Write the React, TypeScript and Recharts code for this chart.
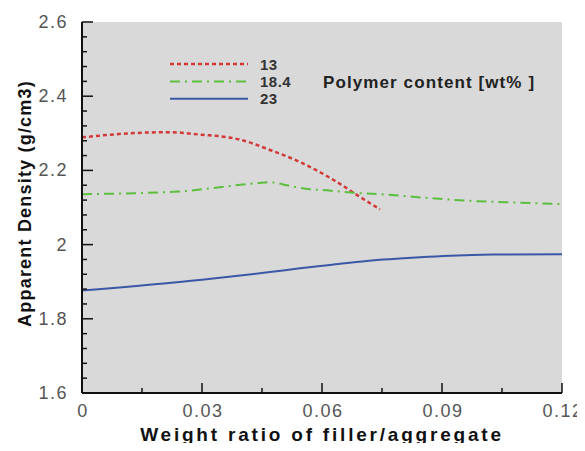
import React from 'react';
import { LineChart, Line, XAxis, YAxis, CartesianGrid, Legend } from 'recharts';

// ---- tick labels ----
const xMajorTicks = [0, 0.03, 0.06, 0.09, 0.12];
const xTickLabels = ['0', '0.03', '0.06', '0.09', '0.12'];
const yMajorTicks = [1.6, 1.8, 2, 2.2, 2.4, 2.6];
const yTickLabels = ['1.6', '1.8', '2', '2.2', '2.4', '2.6'];

// ---- series ----
const seriesNames = ['13', '18.4', '23'];
const legendTitle = 'Polymer content [wt% ]';
const xAxisTitle = 'Weight ratio of filler/aggregate';
const yAxisTitle = 'Apparent Density (g/cm3)';

const ratio13 = [0, 0.0137, 0.022, 0.03, 0.036, 0.0395, 0.047, 0.055, 0.064, 0.069, 0.0745];
const density13 = [2.289, 2.301, 2.303, 2.296, 2.29, 2.283, 2.255, 2.22, 2.167, 2.132, 2.095];

const ratio184 = [0, 0.024, 0.034, 0.044, 0.047, 0.052, 0.057, 0.06, 0.068, 0.0745, 0.086, 0.097, 0.109, 0.12];
const density184 = [2.136, 2.143, 2.154, 2.166, 2.168, 2.158, 2.149, 2.147, 2.14, 2.136, 2.126, 2.118, 2.113, 2.109];

const ratio23 = [0, 0.03, 0.047, 0.0545, 0.062, 0.0712, 0.0845, 0.092, 0.1028, 0.12];
const density23 = [1.876, 1.905, 1.926, 1.936, 1.945, 1.956, 1.966, 1.97, 1.973, 1.974];

const toRows = (xs: number[], ys: number[]) => xs.map((x, i) => ({ x, y: ys[i] }));

const seriesStyles = [
  { color: '#d23a3a', dash: '4 3', width: 2.5 },
  { color: '#5cbf3f', dash: '10 5 2 5', width: 2 },
  { color: '#3b58a6', dash: undefined as string | undefined, width: 2 },
];

const seriesData = [toRows(ratio13, density13), toRows(ratio184, density184), toRows(ratio23, density23)];

const subdivide = (majors: number[], n: number) => {
  const out: number[] = [];
  for (let i = 0; i < majors.length - 1; i++) {
    for (let k = 0; k < n; k++) {
      out.push(+(majors[i] + ((majors[i + 1] - majors[i]) * k) / n).toFixed(5));
    }
  }
  out.push(majors[majors.length - 1]);
  return out;
};

const xTicks = subdivide(xMajorTicks, 2);
const yTicks = subdivide(yMajorTicks, 5);

const FONT = '"Liberation Sans", Arial, sans-serif';

const majorIndex = (majors: number[], v: number) => majors.findIndex((m) => Math.abs(m - v) < 1e-6);

const XTick = (props: any) => {
  const { x, y, payload } = props;
  const idx = majorIndex(xMajorTicks, payload.value);
  const major = idx >= 0;
  return (
    <g>
      <line x1={x} y1={y} x2={x} y2={y - (major ? 10 : 5)} stroke="#111" strokeWidth={1.5} />
      {major && (
        <text
          x={x + 1}
          y={y + 18}
          textAnchor="middle"
          dominantBaseline="central"
          fontSize={18}
          fill="#555"
          letterSpacing={1.5}
          fontFamily={FONT}
        >
          {xTickLabels[idx]}
        </text>
      )}
    </g>
  );
};

const YTick = (props: any) => {
  const { x, y, payload } = props;
  const idx = majorIndex(yMajorTicks, payload.value);
  const major = idx >= 0;
  return (
    <g>
      <line x1={x} y1={y} x2={x + (major ? 11 : 5)} y2={y} stroke="#111" strokeWidth={1.5} />
      {major && (
        <text
          x={x - 14}
          y={y}
          textAnchor="end"
          dominantBaseline="central"
          fontSize={18}
          fill="#555"
          letterSpacing={1.5}
          fontFamily={FONT}
        >
          {yTickLabels[idx]}
        </text>
      )}
    </g>
  );
};

const XTitle = (props: any) => {
  const vb = props.viewBox || {};
  return (
    <text
      x={vb.x + vb.width / 2}
      y={vb.y + 41}
      textAnchor="middle"
      dominantBaseline="central"
      fontSize={19}
      fontWeight="bold"
      fill="#111"
      letterSpacing={2.8}
      fontFamily={FONT}
    >
      {xAxisTitle}
    </text>
  );
};

const YTitle = (props: any) => {
  const vb = props.viewBox || {};
  const cx = 25;
  const cy = vb.y + vb.height / 2 - 4;
  return (
    <text
      x={cx}
      y={cy}
      transform={`rotate(-90, ${cx}, ${cy})`}
      textAnchor="middle"
      dominantBaseline="central"
      fontSize={18}
      fontWeight="bold"
      fill="#111"
      letterSpacing={1.2}
      fontFamily={FONT}
    >
      {yAxisTitle}
    </text>
  );
};

const LegendBox = () => (
  <svg width={400} height={70} style={{ overflow: 'visible' }}>
    {seriesNames.map((name, i) => {
      const y = 11 + i * 17.4;
      const s = seriesStyles[i];
      return (
        <g key={name}>
          <line x1={0} y1={y} x2={78} y2={y} stroke={s.color} strokeWidth={s.width} strokeDasharray={s.dash} />
          <text x={90} y={y} dominantBaseline="central" fontSize={15} fontWeight="bold" fill="#333" fontFamily={FONT} letterSpacing={0.5}>
            {name}
          </text>
        </g>
      );
    })}
    <text x={153} y={29} dominantBaseline="central" fontSize={17} fontWeight="bold" fill="#222" fontFamily={FONT} letterSpacing={1.1}>
      {legendTitle}
    </text>
  </svg>
);

export default function App() {
  return (
    <div style={{ width: 585, height: 451, margin: -8, fontFamily: FONT, position: 'relative' }}>
      <LineChart width={585} height={451} margin={{ top: 22, right: 23, bottom: 8, left: 0 }}>
        <CartesianGrid fill="#d9d9d9" stroke="none" vertical={false} horizontal={false} />
        <XAxis
          type="number"
          dataKey="x"
          domain={[0, 0.12]}
          ticks={xTicks}
          interval={0}
          allowDataOverflow
          tick={<XTick />}
          tickLine={false}
          tickSize={0}
          tickMargin={0}
          axisLine={{ stroke: '#111', strokeWidth: 2 }}
          height={50}
          label={(p: any) => <XTitle {...p} />}
        />
        <YAxis
          type="number"
          domain={[1.6, 2.6]}
          ticks={yTicks}
          interval={0}
          allowDataOverflow
          tick={<YTick />}
          tickLine={false}
          tickSize={0}
          tickMargin={0}
          axisLine={{ stroke: '#111', strokeWidth: 2 }}
          width={82}
          label={(p: any) => <YTitle {...p} />}
        />
        <Legend
          layout="horizontal"
          verticalAlign="middle"
          align="center"
          content={() => <LegendBox />}
          wrapperStyle={{ position: 'absolute', left: 170, top: 53, width: 400, height: 70 }}
        />
        {seriesData.map((rows, i) => (
          <Line
            key={seriesNames[i]}
            name={seriesNames[i]}
            data={rows}
            dataKey="y"
            type="monotone"
            stroke={seriesStyles[i].color}
            strokeWidth={seriesStyles[i].width}
            strokeDasharray={seriesStyles[i].dash}
            dot={false}
            activeDot={false}
            isAnimationActive={false}
          />
        ))}
      </LineChart>
    </div>
  );
}
